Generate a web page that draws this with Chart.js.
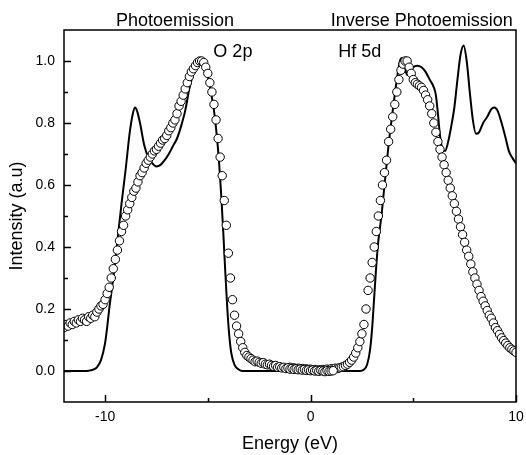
<!DOCTYPE html>
<html><head><meta charset="utf-8">
<script src="https://cdn.jsdelivr.net/npm/chart.js@4"></script>
<style>html,body{margin:0;padding:0;background:#fff}</style>
</head><body>
<canvas id="c" width="526" height="455"></canvas>
<script>
// ---- data ----
const theoryEnergy = [-12.0,-11.0,-10.8,-10.6,-10.4,-10.2,-10.0,-9.9,-9.8,-9.6,-9.4,-9.2,-9.0,-8.8,-8.65,-8.55,-8.45,-8.3,-8.1,-7.9,-7.7,-7.5,-7.3,-7.1,-6.9,-6.7,-6.5,-6.3,-6.1,-5.9,-5.7,-5.5,-5.35,-5.2,-5.0,-4.85,-4.7,-4.55,-4.45,-4.35,-4.25,-4.15,-4.05,-3.95,-3.85,-3.7,-3.5,-3.3,2.4,2.6,2.75,2.9,3.0,3.1,3.2,3.3,3.45,3.6,3.8,4.0,4.2,4.35,4.45,4.55,4.7,4.85,5.0,5.2,5.4,5.6,5.8,6.0,6.1,6.2,6.3,6.4,6.55,6.7,6.85,7.0,7.15,7.3,7.45,7.6,7.75,7.9,8.05,8.2,8.4,8.6,8.8,8.95,9.1,9.3,9.5,9.65,9.8,10.0];
const theoryIntensity = [0,0,0.001,0.004,0.012,0.035,0.09,0.14,0.2,0.3,0.42,0.54,0.65,0.77,0.83,0.85,0.84,0.8,0.73,0.69,0.67,0.66,0.665,0.68,0.7,0.725,0.75,0.79,0.84,0.91,0.96,0.99,1.0,0.99,0.95,0.9,0.84,0.75,0.67,0.57,0.45,0.32,0.2,0.11,0.055,0.02,0.005,0,0,0.005,0.02,0.07,0.14,0.24,0.34,0.42,0.5,0.6,0.73,0.84,0.94,1.0,1.01,0.99,0.955,0.965,0.98,0.985,0.98,0.965,0.94,0.915,0.89,0.83,0.76,0.72,0.71,0.74,0.79,0.85,0.94,1.02,1.05,1.0,0.9,0.81,0.765,0.77,0.8,0.82,0.845,0.85,0.84,0.8,0.75,0.71,0.69,0.67];

const pesEnergy = [-12.0,-11.9,-11.8,-11.7,-11.6,-11.5,-11.4,-11.3,-11.2,-11.1,-11.0,-10.9,-10.8,-10.7,-10.6,-10.5,-10.4,-10.3,-10.2,-10.1,-10.0,-9.9,-9.8,-9.7,-9.6,-9.5,-9.4,-9.3,-9.2,-9.1,-9.0,-8.9,-8.8,-8.7,-8.6,-8.5,-8.4,-8.3,-8.2,-8.1,-8.0,-7.9,-7.8,-7.7,-7.6,-7.5,-7.4,-7.3,-7.2,-7.1,-7.0,-6.9,-6.8,-6.7,-6.6,-6.5,-6.4,-6.3,-6.2,-6.1,-6.0,-5.9,-5.8,-5.7,-5.6,-5.5,-5.4,-5.3,-5.2,-5.1,-5.0,-4.9,-4.8,-4.7,-4.6,-4.5,-4.4,-4.3,-4.2,-4.1,-4.0,-3.9,-3.8,-3.7,-3.6,-3.5,-3.4,-3.3,-3.2,-3.1,-3.0,-2.9,-2.8,-2.7,-2.6,-2.5,-2.4,-2.3,-2.2,-2.1,-2.0,-1.9,-1.8,-1.7,-1.6,-1.5,-1.4,-1.3,-1.2,-1.1,-1.0,-0.9,-0.8,-0.7,-0.6,-0.5,-0.4,-0.3,-0.2,-0.1,0.0,0.1,0.2,0.3,0.4,0.5,0.6,0.7,0.8,0.9,1.0,1.1];
const pesIntensity = [0.14,0.15,0.145,0.155,0.15,0.16,0.155,0.165,0.16,0.17,0.165,0.16,0.175,0.17,0.18,0.175,0.19,0.2,0.21,0.215,0.23,0.25,0.27,0.3,0.33,0.36,0.39,0.42,0.45,0.47,0.5,0.52,0.54,0.56,0.58,0.59,0.61,0.63,0.64,0.655,0.67,0.68,0.69,0.7,0.71,0.715,0.725,0.735,0.745,0.75,0.76,0.775,0.785,0.8,0.81,0.83,0.855,0.87,0.89,0.91,0.93,0.95,0.965,0.975,0.985,0.995,1.0,1.0,0.995,0.98,0.96,0.93,0.9,0.86,0.81,0.75,0.69,0.63,0.55,0.47,0.38,0.3,0.23,0.18,0.145,0.12,0.095,0.075,0.06,0.05,0.045,0.04,0.035,0.03,0.032,0.028,0.025,0.027,0.022,0.02,0.022,0.018,0.015,0.018,0.012,0.014,0.01,0.012,0.008,0.01,0.006,0.008,0.005,0.007,0.004,0.006,0.003,0.005,0.002,0.004,0.001,0.003,0.0,0.002,-0.001,0.002,0.0,-0.002,0.001,-0.001,0.0,0.001];

const ipeEnergy = [-1.0,-0.9,-0.8,-0.7,-0.6,-0.5,-0.4,-0.3,-0.2,-0.1,0.0,0.1,0.2,0.3,0.4,0.5,0.6,0.7,0.8,0.9,1.0,1.1,1.2,1.3,1.4,1.5,1.6,1.7,1.8,1.9,2.0,2.1,2.2,2.3,2.4,2.5,2.6,2.7,2.8,2.9,3.0,3.1,3.2,3.3,3.4,3.5,3.6,3.7,3.8,3.9,4.0,4.1,4.2,4.3,4.4,4.5,4.6,4.7,4.8,4.9,5.0,5.1,5.2,5.3,5.4,5.5,5.6,5.7,5.8,5.9,6.0,6.1,6.2,6.3,6.4,6.5,6.6,6.7,6.8,6.9,7.0,7.1,7.2,7.3,7.4,7.5,7.6,7.7,7.8,7.9,8.0,8.1,8.2,8.3,8.4,8.5,8.6,8.7,8.8,8.9,9.0,9.1,9.2,9.3,9.4,9.5,9.6,9.7,9.8,9.9,10.0];
const ipeIntensity = [0.012,0.008,0.01,0.006,0.009,0.005,0.008,0.004,0.007,0.003,0.006,0.002,0.005,0.001,0.004,0.002,0.005,0.003,0.006,0.004,0.007,0.006,0.009,0.008,0.01,0.012,0.014,0.018,0.022,0.028,0.035,0.045,0.058,0.075,0.095,0.12,0.15,0.2,0.26,0.3,0.35,0.4,0.45,0.5,0.55,0.6,0.64,0.68,0.74,0.78,0.82,0.86,0.9,0.94,0.97,0.99,1.0,1.0,0.98,0.96,0.94,0.93,0.925,0.92,0.915,0.905,0.89,0.875,0.855,0.83,0.8,0.77,0.74,0.715,0.69,0.665,0.64,0.615,0.59,0.565,0.54,0.515,0.49,0.465,0.44,0.415,0.39,0.37,0.345,0.32,0.3,0.28,0.26,0.24,0.225,0.21,0.195,0.18,0.17,0.155,0.14,0.13,0.118,0.107,0.098,0.09,0.082,0.075,0.07,0.065,0.06];

const xTicks = [-10, 0, 10];
const xTickLabels = ['-10', '0', '10'];
const xMinorTicks = [-5, 5];
const yTicks = [0, 0.2, 0.4, 0.6, 0.8, 1.0];
const yTickLabels = ['0.0', '0.2', '0.4', '0.6', '0.8', '1.0'];
const yMinorTicks = [0.1, 0.3, 0.5, 0.7, 0.9];

const xTitle = 'Energy (eV)';
const yTitle = 'Intensity (a.u)';
const annotations = [
  {text: 'Photoemission', x: -6.6, y: 1.13},
  {text: 'Inverse Photoemission', x: 5.41, y: 1.13},
  {text: 'O 2p', x: -3.78, y: 1.028},
  {text: 'Hf 5d', x: 2.39, y: 1.028}
];

// ---- chart ----
const FONT = "'Liberation Sans', Arial, sans-serif";
const toXY = (xs, ys) => xs.map((x, i) => ({x: x, y: ys[i]}));

const framePlugin = {
  id: 'frame',
  afterDraw(chart) {
    const c = chart.ctx, a = chart.chartArea;
    const xs = chart.scales.x, ys = chart.scales.y;
    c.save();
    c.strokeStyle = '#000';
    c.lineWidth = 1.5;
    c.strokeRect(a.left, a.top, a.right - a.left, a.bottom - a.top);
    c.lineWidth = 1.5;
    c.beginPath();
    xTicks.forEach(v => { const p = Math.round(xs.getPixelForValue(v)) + 0.5; c.moveTo(p, a.bottom); c.lineTo(p, a.bottom - 7); });
    xMinorTicks.forEach(v => { const p = Math.round(xs.getPixelForValue(v)) + 0.5; c.moveTo(p, a.bottom); c.lineTo(p, a.bottom - 4); });
    yTicks.forEach(v => { const p = Math.round(ys.getPixelForValue(v)) + 0.5; c.moveTo(a.left, p); c.lineTo(a.left + 7, p); });
    yMinorTicks.forEach(v => { const p = Math.round(ys.getPixelForValue(v)) + 0.5; c.moveTo(a.left, p); c.lineTo(a.left + 4, p); });
    c.stroke();
    c.fillStyle = '#000';
    c.font = '18px ' + FONT;
    c.textAlign = 'center';
    c.textBaseline = 'middle';
    annotations.forEach(t => c.fillText(t.text, xs.getPixelForValue(t.x), ys.getPixelForValue(t.y)));
    c.restore();
  }
};

new Chart(document.getElementById('c'), {
  type: 'scatter',
  data: {
    datasets: [
      {label: 'theory', data: toXY(theoryEnergy, theoryIntensity), showLine: true, borderColor: '#000', borderWidth: 2, pointRadius: 0, cubicInterpolationMode: 'monotone', fill: false, order: 2},
      {label: 'PES', data: toXY(pesEnergy, pesIntensity), showLine: false, pointRadius: 4.2, pointBorderWidth: 1, pointBackgroundColor: '#fff', pointBorderColor: '#000', order: 1},
      {label: 'IPE', data: toXY(ipeEnergy, ipeIntensity), showLine: false, pointRadius: 4.2, pointBorderWidth: 1, pointBackgroundColor: '#fff', pointBorderColor: '#000', order: 1}
    ]
  },
  options: {
    responsive: false,
    animation: false,
    devicePixelRatio: 1,
    layout: {autoPadding: false, padding: {top: 30, right: 10, left: 0, bottom: 0}},
    plugins: {legend: {display: false}, tooltip: {enabled: false}},
    scales: {
      x: {
        type: 'linear', min: -12, max: 10,
        afterBuildTicks: s => { s.ticks = xTicks.map(v => ({value: v})); },
        afterFit: s => { s.height = 53; },
        grid: {display: true, color: 'rgba(0,0,0,0)', drawOnChartArea: false, drawTicks: true, tickLength: 5},
        border: {display: false},
        ticks: {padding: 2, color: '#000', font: {family: FONT, size: 14}, maxRotation: 0,
          callback: (v) => { const i = xTicks.indexOf(v); return i >= 0 ? xTickLabels[i] : ''; }},
        title: {display: true, text: xTitle, color: '#000', font: {family: FONT, size: 18}, padding: {top: 0, bottom: 0}}
      },
      y: {
        type: 'linear', min: -0.1, max: 1.1,
        afterBuildTicks: s => { s.ticks = yTicks.map(v => ({value: v})); },
        afterFit: s => { s.width = 64; },
        grid: {display: false, drawTicks: false},
        border: {display: false},
        ticks: {padding: 9, color: '#000', font: {family: FONT, size: 14},
          callback: (v) => { const i = yTicks.indexOf(v); return i >= 0 ? yTickLabels[i] : ''; }},
        title: {display: true, text: yTitle, color: '#000', font: {family: FONT, size: 18}, padding: {top: 6, bottom: 0}}
      }
    }
  },
  plugins: [framePlugin]
});
</script>
</body></html>
